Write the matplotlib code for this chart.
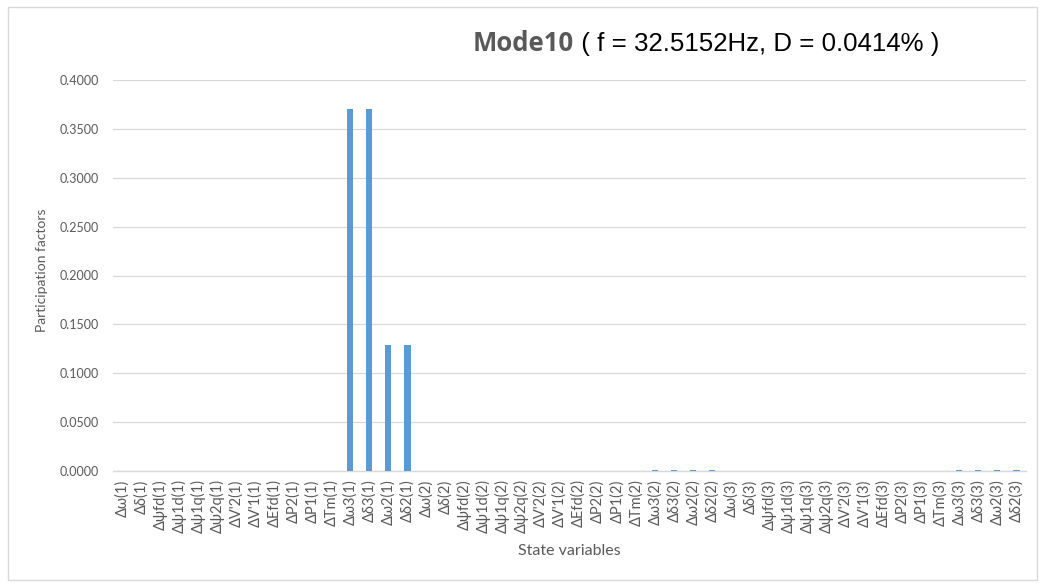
import matplotlib
matplotlib.use("Agg")
import matplotlib.pyplot as plt
from matplotlib.patches import Rectangle
from matplotlib.ticker import MultipleLocator, FormatStrFormatter

# State variables of one machine, repeated for machines 1..3
base_states = ["Δω", "Δδ", "Δψfd", "Δψ1d", "Δψ1q", "Δψ2q", "ΔV'2", "ΔV'1",
               "ΔEfd", "ΔP2", "ΔP1", "ΔTm", "Δω3", "Δδ3", "Δω2", "Δδ2"]
machines = [1, 2, 3]
categories = [f"{s}({m})" for m in machines for s in base_states]

# Participation factors for Mode 10
pf_machine1 = [0, 0, 0, 0, 0, 0, 0, 0, 0, 0, 0, 0, 0.3707, 0.3707, 0.1285, 0.1285]
pf_machine2 = [0, 0, 0, 0, 0, 0, 0, 0, 0, 0, 0, 0, 0.0006, 0.0006, 0.0006, 0.0006]
pf_machine3 = [0, 0, 0, 0, 0, 0, 0, 0, 0, 0, 0, 0, 0.0006, 0.0006, 0.0006, 0.0006]
values = pf_machine1 + pf_machine2 + pf_machine3

title_mode = "Mode10"
title_info = " ( f = 32.5152Hz, D = 0.0414% )"

W, H = 1044, 584
fig = plt.figure(figsize=(W / 100, H / 100), dpi=100)
fig.patch.set_facecolor("white")

# light chart-area frame
fig.add_artist(Rectangle((8 / W, 1 - 580 / H), (1037 - 8) / W, (580 - 7) / H,
                         transform=fig.transFigure, fill=False,
                         edgecolor="#D9D9D9", linewidth=1.0))

ax = fig.add_axes([112.5 / W, 1 - 471 / H, (1026 - 112.5) / W, (471 - 80) / H])

grey = "#595959"
font = ["Lato", "DejaVu Sans"]
x = list(range(len(categories)))
ax.bar(x, values, width=0.32, color="#5B9BD5", zorder=3)

ax.set_xlim(-0.5, len(categories) - 0.5)
ax.set_ylim(0, 0.4)
ax.yaxis.set_major_locator(MultipleLocator(0.05))
ax.yaxis.set_major_formatter(FormatStrFormatter("%.4f"))
ax.grid(axis="y", color="#D9D9D9", linewidth=0.9, zorder=0)
ax.set_axisbelow(True)

for side in ["top", "right", "left"]:
    ax.spines[side].set_visible(False)
ax.spines["bottom"].set_color("#D9D9D9")
ax.spines["bottom"].set_linewidth(1.0)

ax.set_xticks(x)
ax.set_xticklabels(categories, rotation=90, fontsize=10.5, color=grey,
                   family=font)
ax.tick_params(axis="x", length=0, pad=6)
ax.tick_params(axis="y", length=0, pad=10, labelsize=9, labelcolor=grey)
for lbl in ax.get_yticklabels():
    lbl.set_family(font)

fig.text(42 / W, 1 - 270 / H, "Participation factors", fontsize=10, color=grey,
         family=font, rotation=90, ha="center", va="center")
fig.text(569 / W, 1 - 551 / H, "State variables", fontsize=11.5, color=grey,
         family=font, ha="center", va="center")

# Title: bold mode name followed by frequency and damping
t1 = fig.text(473 / W, 1 - 51 / H, title_mode, fontsize=18.5, fontweight="bold",
              color=grey, family=["Open Sans", "DejaVu Sans"], ha="left",
              va="baseline")
fig.canvas.draw()
bb = t1.get_window_extent(renderer=fig.canvas.get_renderer())
fig.text(bb.x1 / W, 1 - 51 / H, title_info, fontsize=18.6, color="black",
         family=["Liberation Sans", "DejaVu Sans"], ha="left", va="baseline")

fig.savefig("out.png", dpi=100, facecolor="white")
